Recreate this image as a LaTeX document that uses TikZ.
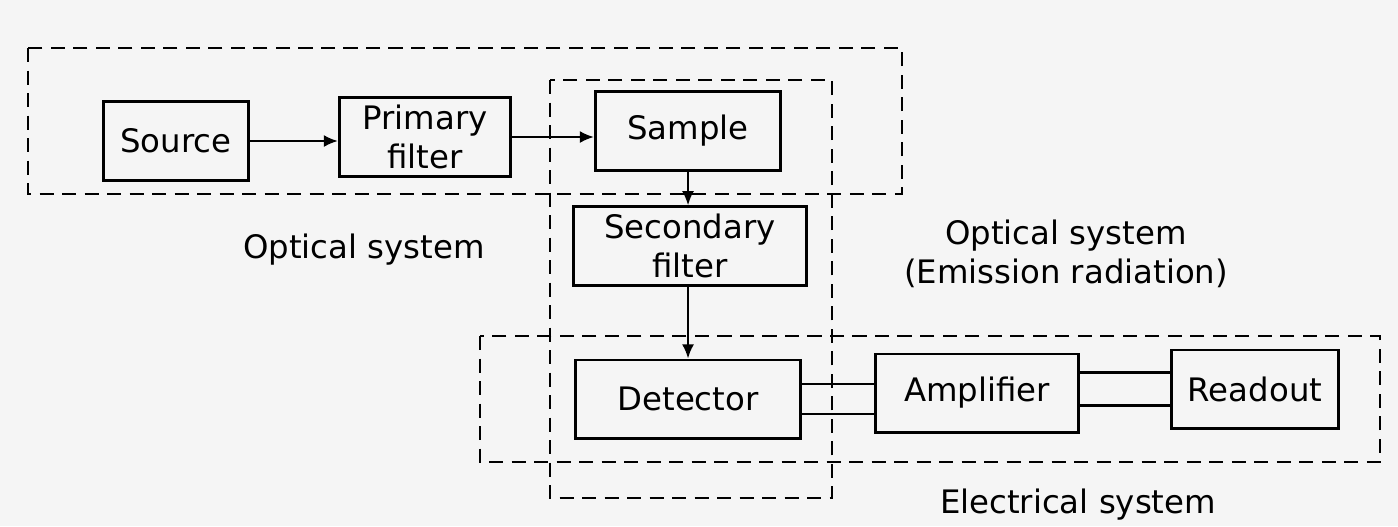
\documentclass[tikz,border=0pt]{standalone}
\usepackage{fontspec}
\setmainfont{DejaVu Sans}
\usepackage{tikz}
\usetikzlibrary{positioning,arrows.meta}

\begin{document}
\begin{tikzpicture}[x=0.01cm,y=-0.01cm,>={Latex[length=4pt,width=3.4pt]},
  font=\fontsize{9.2}{11.2}\selectfont,
  blk/.style={draw,line width=0.85pt,minimum height=0.78cm,align=center,inner sep=2pt},
  grp/.style={draw,line width=0.8pt,dash pattern=on 4pt off 2.4pt}]

\useasboundingbox (0,0) rectangle (1398,526);
\fill[black!4] (0,0) rectangle (1398,526);

%---------------------------------
% BLOQUES
%---------------------------------
\node[blk,minimum width=1.44cm] (src) at (176,141) {Source};
\node[blk,minimum width=1.71cm] (pf)  at (425,137) {Primary\\filter};
\node[blk,minimum width=1.85cm] (samp) at (688,131) {Sample};
\node[blk,minimum width=2.33cm] (sf)  at (690,246) {Secondary\\filter};
\node[blk,minimum width=2.25cm] (det) at (688,399) {Detector};
\node[blk,minimum width=2.02cm] (amp) at (977,393) {Amplifier};
\node[blk,minimum width=1.66cm] (rd)  at (1255,389) {Readout};

%---------------------------------
% CONEXIONES
%---------------------------------
\draw[->,line width=0.6pt] (src.east) -- (src.east -| pf.west);
\draw[->,line width=0.6pt] (pf.east) -- (pf.east -| samp.west);
\draw[->,line width=0.6pt] (samp.south) -- (samp.south |- sf.north);
\draw[->,line width=0.6pt] (sf.south -| samp.south) -- (samp.south |- det.north);

% lineas dobles del sistema electrico
\draw[line width=0.7pt] ([yshift=4.3pt]det.east) -- ([yshift=4.3pt]det.east -| amp.west);
\draw[line width=0.7pt] ([yshift=-4.3pt]det.east) -- ([yshift=-4.3pt]det.east -| amp.west);
\draw[line width=0.7pt] ([yshift=4.7pt]rd.west -| amp.east) -- ([yshift=4.7pt]rd.west);
\draw[line width=0.7pt] ([yshift=-4.7pt]rd.west -| amp.east) -- ([yshift=-4.7pt]rd.west);

%---------------------------------
% RECUADROS DE LOS SISTEMAS
%---------------------------------
\draw[grp] (28,48) rectangle (902,194);
\draw[grp] (550,80) rectangle (832,498);
\draw[grp] (480,336) rectangle (1380,462);

% etiquetas
\node (optlbl) at (364,250) {Optical system};
\node[align=center] (emlbl) at (1066,254) {Optical system\\(Emission radiation)};
\node (ellbl) at (1078,505) {Electrical system};

\end{tikzpicture}
\end{document}
